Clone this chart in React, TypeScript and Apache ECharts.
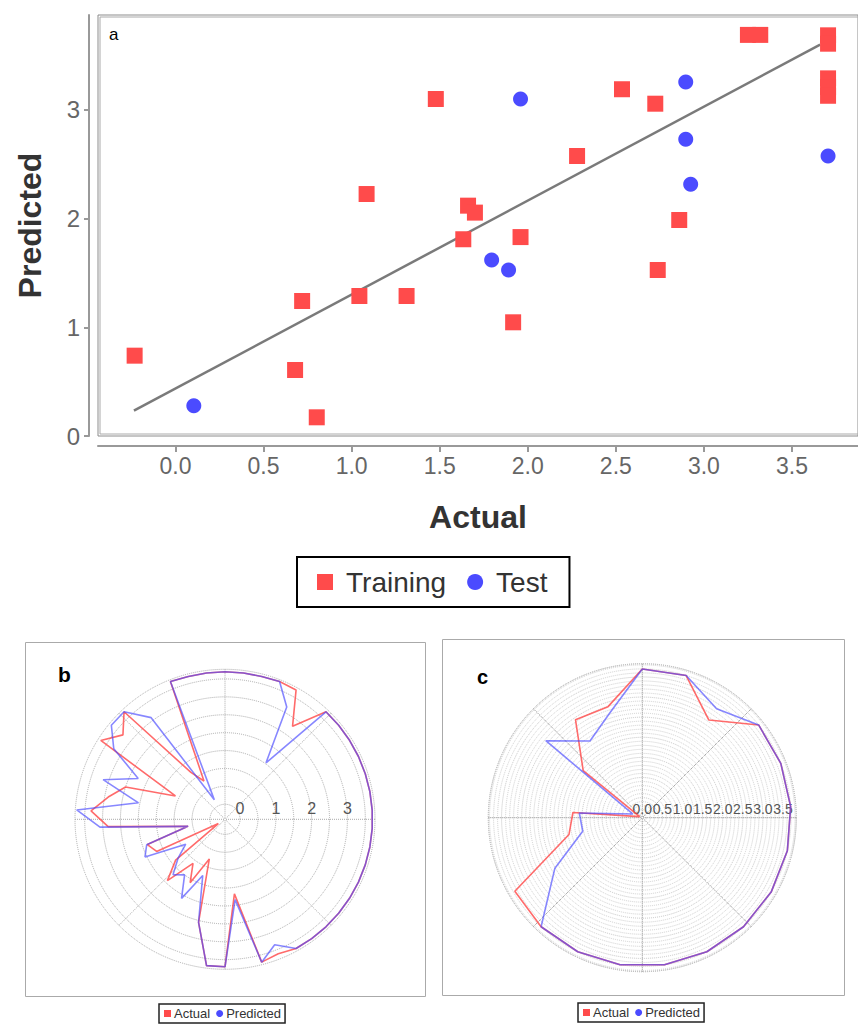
import React, { useEffect, useRef } from 'react';
import * as echarts from 'echarts';

// ---- Panel a: scatter (Actual, Predicted) ----
const trainingPoints: number[][] = [
  [-0.232, 0.739], [0.719, 1.242], [0.679, 0.607], [0.802, 0.172], [1.085, 2.226],
  [1.044, 1.288], [1.312, 1.288], [1.478, 3.10], [2.535, 3.19], [2.724, 3.057],
  [3.25, 3.69], [3.32, 3.69], [3.705, 3.686], [3.705, 3.609], [3.705, 3.29],
  [3.705, 3.21], [3.705, 3.13], [2.28, 2.576], [1.661, 2.119], [1.70, 2.055],
  [1.634, 1.81], [1.959, 1.83], [2.86, 1.987], [2.738, 1.527], [1.917, 1.046],
];
const testPoints: number[][] = [
  [0.104, 0.279], [1.959, 3.10], [2.897, 3.257], [3.705, 2.576],
  [2.897, 2.73], [2.925, 2.315], [1.795, 1.62], [1.891, 1.527],
];
const fitLine: number[][] = [[-0.236, 0.233], [3.66, 3.60]];
const xTicks = [0, 0.5, 1, 1.5, 2, 2.5, 3, 3.5];
const yTicks = [0, 1, 2, 3];

// ---- Panel b: polar (training series, 50 samples, clockwise from top) ----
const actualB = [
  3.7, 3.7, 3.7, 3.72, 3.7, 2.79, 3.7, 3.7, 3.7, 3.7,
  3.7, 3.7, 3.7, 3.7, 3.7, 3.7, 3.7, 3.7, 3.7, 3.7,
  3.7, 3.7, 3.62, 3.7, 1.68, 3.7, 3.7, 2.55, 0.77, 1.6,
  1.1, 1.93, 1.37, -0.2, 1.69, 1.86, 0.63, 2.85, 3.33, 2.9,
  2.5, 1.11, 3.69, 3.28, 3.7, 1.2, 0.8, 3.72, 3.7, 3.7,
];
const predictedB = [
  3.7, 3.7, 3.7, 3.72, 3.16, 1.53, 3.7, 3.7, 3.7, 3.7,
  3.7, 3.7, 3.7, 3.7, 3.7, 3.7, 3.7, 3.7, 3.7, 3.7,
  3.7, 3.7, 3.35, 3.7, 1.84, 3.7, 3.7, 2.55, 1.27, 2.1,
  1.5, 1.7, 1.28, 0.88, 2.05, 1.88, 0.63, 3.08, 3.73, 2.04,
  3.16, 2.26, 3.26, 3.7, 3.7, 3.09, 0.2, 3.72, 3.7, 3.7,
];
const bRingValues = [0, 0.5, 1, 1.5, 2, 2.5, 3, 3.5];
const bLabelValues = [0, 1, 2, 3];

// ---- Panel c: polar (test series, 21 samples, clockwise from top) ----
const actualC = [
  3.7, 3.7, 2.94, 3.7, 3.7, 3.7, 3.7, 3.7, 3.7, 3.7,
  3.7, 3.7, 3.7, 3.7, 3.66, 1.87, 1.73, 0.07, 1.88, 2.95, 2.89,
];
const predictedC = [
  3.7, 3.7, 3.28, 3.7, 3.7, 3.7, 3.7, 3.7, 3.7, 3.7,
  3.7, 3.7, 3.7, 3.7, 2.51, 1.52, 1.57, 0.25, 3.07, 2.31, 2.73,
];
const cLabelValues = [0, 0.5, 1, 1.5, 2, 2.5, 3, 3.5];

const RED = '#ff4b4b';
const BLUE = '#4b4bff';
const FONT = 'Liberation Sans, Arial, sans-serif';

function toPolar(values: number[]) {
  const n = values.length;
  const pts = values.map((v, i) => [v, (i * 360 / n + 270) % 360]);
  pts.push(pts[0]);
  return pts;
}

export default function App() {
  const ref = useRef<HTMLDivElement>(null);
  useEffect(() => {
    if (!ref.current) return;
    const chart = echarts.init(ref.current, undefined, { renderer: 'svg' });
    const polarLine = (name: string, values: number[], polarIndex: number, color: string, stroke: string) => ({
      type: 'line', name, coordinateSystem: 'polar', polarIndex,
      data: toPolar(values), symbol: 'none', showSymbol: false,
      lineStyle: { color: stroke, width: 1.6 }, itemStyle: { color },
      z: name === 'Predicted' ? 4 : 3,
    });
    const option: any = {
      animation: false,
      backgroundColor: '#ffffff',
      textStyle: { fontFamily: FONT },
      grid: {
        left: 98, top: 15, width: 762, height: 421,
        show: true, borderColor: '#8c8c8c', borderWidth: 1, backgroundColor: 'transparent',
      },
      xAxis: {
        type: 'value', min: -0.44, max: 3.875, offset: 10,
        axisLine: { show: true, onZero: false, lineStyle: { color: '#999', width: 2 } },
        axisTick: { show: true, customValues: xTicks, length: 6, lineStyle: { color: '#999', width: 2 } },
        axisLabel: { customValues: xTicks, formatter: (v: number) => v.toFixed(1), fontSize: 23, color: '#666', margin: 8 },
        splitLine: { show: false },
        name: 'Actual', nameLocation: 'middle', nameGap: 55,
        nameTextStyle: { fontSize: 32, fontWeight: 'bold', color: '#333' },
      },
      yAxis: {
        type: 'value', min: 0, max: 3.873, offset: 9,
        axisLine: { show: true, onZero: false, lineStyle: { color: '#999', width: 2 } },
        axisTick: { show: true, customValues: yTicks, length: 5, lineStyle: { color: '#999', width: 2 } },
        axisLabel: { customValues: yTicks, fontSize: 24, color: '#666', margin: 9 },
        splitLine: { show: false },
        name: 'Predicted', nameLocation: 'middle', nameGap: 43, nameRotate: 90,
        nameTextStyle: { fontSize: 32, fontWeight: 'bold', color: '#333' },
      },
      polar: [
        { center: [225, 819.3], radius: 150 },
        { center: [642.3, 817.7], radius: 154 },
      ],
      angleAxis: [
        {
          polarIndex: 0, type: 'value', min: 0, max: 360, interval: 45, startAngle: 0, clockwise: true,
          axisLine: { show: true, lineStyle: { color: '#aaa', type: 'dotted', width: 1 } },
          axisTick: { show: false }, axisLabel: { show: false },
          splitLine: { show: true, lineStyle: { color: '#aaa', type: 'dotted', width: 1 } },
        },
        {
          polarIndex: 1, type: 'value', min: 0, max: 360, interval: 45, startAngle: 0, clockwise: true,
          axisLine: { show: true, lineStyle: { color: '#bbb', type: 'dotted', width: 1 } },
          axisTick: { show: false }, axisLabel: { show: false },
          splitLine: { show: true, lineStyle: { color: '#888', type: 'dotted', width: 1 } },
        },
      ],
      radiusAxis: [
        {
          polarIndex: 0, type: 'value', min: -0.42, max: 3.77,
          axisLine: { show: false },
          axisTick: { show: false, customValues: bRingValues },
          axisLabel: { customValues: bLabelValues, fontSize: 16, color: '#555', margin: 3 },
          splitLine: { show: true, lineStyle: { color: '#aaa', type: 'dotted', width: 1 } },
        },
        {
          polarIndex: 1, type: 'value', min: 0, max: 3.83, interval: 0.5,
          axisLine: { show: false },
          axisTick: { show: false },
          minorTick: { show: false, splitNumber: 5 },
          minorSplitLine: { show: true, lineStyle: { color: '#cfcfcf', type: 'dotted', width: 1 } },
          axisLabel: { customValues: cLabelValues, formatter: (v: number) => v.toFixed(1), fontSize: 14, color: '#555', margin: 2 },
          splitLine: { show: true, lineStyle: { color: '#c4c4c4', type: 'dotted', width: 1 } },
        },
      ],
      legend: [
        {
          data: [{ name: 'Training', icon: 'rect' }, { name: 'Test', icon: 'circle' }],
          left: 297, top: 557, orient: 'horizontal', selectedMode: false,
          borderColor: '#000', borderWidth: 2, padding: [11, 22, 11, 20],
          itemWidth: 16, itemHeight: 16, itemGap: 21,
          textStyle: { fontSize: 28, color: '#333', padding: [0, 0, 0, 8] },
        },
        {
          data: [{ name: 'Actual', icon: 'rect' }, { name: 'Predicted', icon: 'circle' }],
          left: 159, top: 1004, orient: 'horizontal', selectedMode: false,
          borderColor: '#222', borderWidth: 1.5, padding: [3, 4, 3, 5],
          itemWidth: 7, itemHeight: 7, itemGap: 6,
          textStyle: { fontSize: 13, color: '#333', padding: [0, 0, 0, -2] },
        },
        {
          data: [{ name: 'Actual', icon: 'rect' }, { name: 'Predicted', icon: 'circle' }],
          left: 578, top: 1003, orient: 'horizontal', selectedMode: false,
          borderColor: '#222', borderWidth: 1.5, padding: [3, 4, 3, 5],
          itemWidth: 7, itemHeight: 7, itemGap: 6,
          textStyle: { fontSize: 13, color: '#333', padding: [0, 0, 0, -2] },
        },
      ],
      graphic: [
        { type: 'rect', shape: { x: 100, y: 17, width: 762, height: 417 }, style: { fill: 'none', stroke: '#aaa', lineWidth: 1 }, silent: true },
        { type: 'text', x: 109, y: 26, style: { text: 'a', fontSize: 17, fill: '#000', fontFamily: FONT } },
        { type: 'rect', shape: { x: 25.5, y: 642.5, width: 400, height: 354 }, style: { fill: 'none', stroke: '#aaa', lineWidth: 1 }, silent: true },
        { type: 'rect', shape: { x: 442.5, y: 639.5, width: 402, height: 356 }, style: { fill: 'none', stroke: '#aaa', lineWidth: 1 }, silent: true },
        { type: 'text', x: 58, y: 664, style: { text: 'b', fontSize: 21, fontWeight: 'bold', fill: '#000', fontFamily: FONT } },
        { type: 'text', x: 477, y: 667, style: { text: 'c', fontSize: 20, fontWeight: 'bold', fill: '#000', fontFamily: FONT } },
      ],
      series: [
        { type: 'line', name: 'fit', data: fitLine, symbol: 'none', showSymbol: false, lineStyle: { color: '#7a7a7a', width: 2.5 }, z: 2 },
        { type: 'scatter', name: 'Training', data: trainingPoints, symbol: 'rect', symbolSize: 16, itemStyle: { color: RED, opacity: 1 }, z: 3 },
        { type: 'scatter', name: 'Test', data: testPoints, symbol: 'circle', symbolSize: 15, itemStyle: { color: BLUE, opacity: 1 }, z: 3 },
        polarLine('Actual', actualB, 0, RED, 'rgba(255,70,70,0.8)'),
        polarLine('Predicted', predictedB, 0, BLUE, 'rgba(70,70,255,0.65)'),
        polarLine('Actual', actualC, 1, RED, 'rgba(255,70,70,0.8)'),
        polarLine('Predicted', predictedC, 1, BLUE, 'rgba(70,70,255,0.65)'),
      ],
    };
    chart.setOption(option);
    return () => chart.dispose();
  }, []);
  return <div ref={ref} style={{ position: 'absolute', left: 0, top: 0, width: 858, height: 1025 }} />;
}
